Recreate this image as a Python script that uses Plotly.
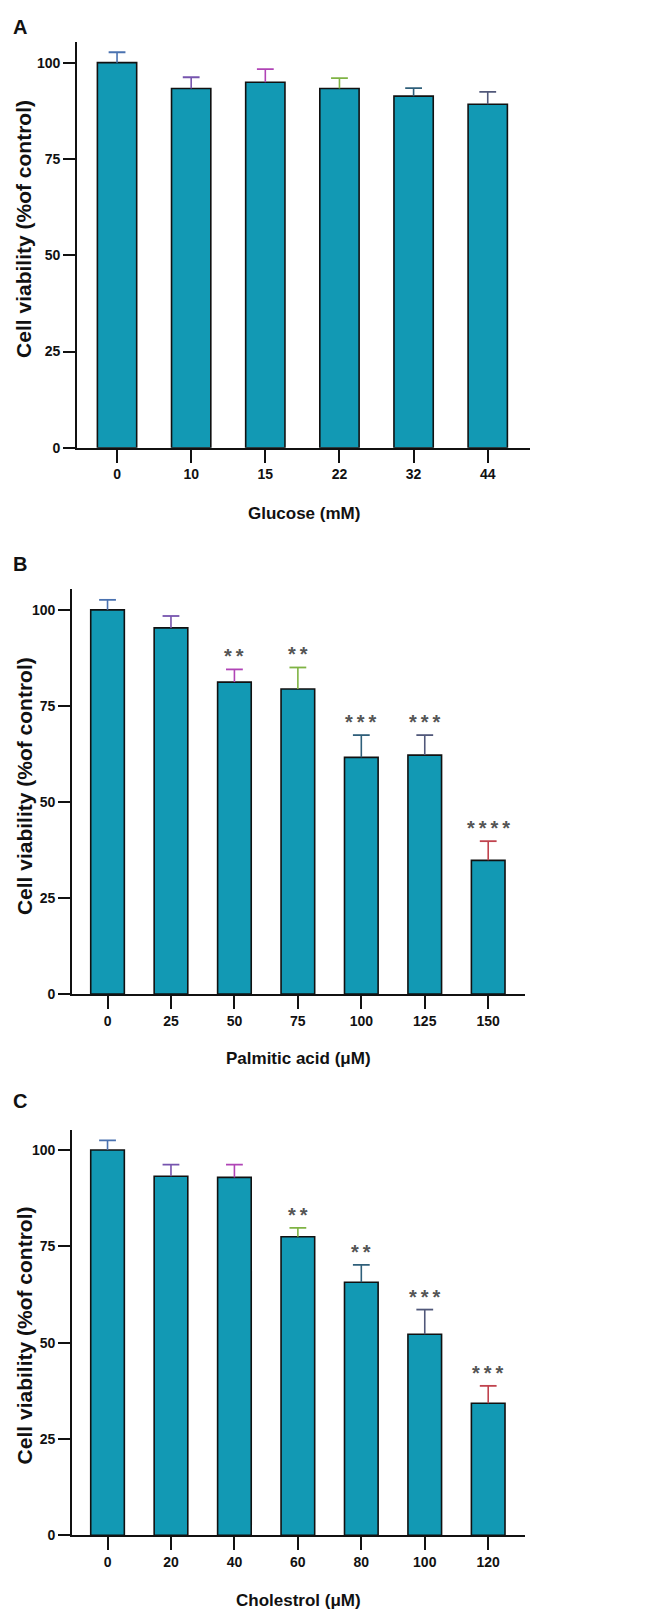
import plotly.graph_objects as go

W, H = 645, 1611

# ---------------- data ----------------
glucose_labels = ["0", "10", "15", "22", "32", "44"]
glucose_mean = [100.0, 93.3, 94.9, 93.3, 91.3, 89.2]
glucose_err = [2.7, 2.9, 3.4, 2.7, 2.1, 3.2]
glucose_sig = ["", "", "", "", "", ""]

palmitic_labels = ["0", "25", "50", "75", "100", "125", "150"]
palmitic_mean = [100.0, 95.3, 81.2, 79.4, 61.6, 62.2, 34.8]
palmitic_err = [2.6, 3.1, 3.3, 5.6, 5.8, 5.2, 5.0]
palmitic_sig = ["", "", "**", "**", "***", "***", "****"]

chol_labels = ["0", "20", "40", "60", "80", "100", "120"]
chol_mean = [100.0, 93.2, 92.9, 77.5, 65.7, 52.2, 34.3]
chol_err = [2.5, 3.0, 3.3, 2.3, 4.5, 6.4, 4.5]
chol_sig = ["", "", "", "**", "**", "***", "***"]

y_ticks = [0, 25, 50, 75, 100]

# ---------------- styles ----------------
BAR_COLOR = "#1299b4"
ERR_COLORS = ["#4a72b0", "#7654ae", "#b044b6", "#7fb344", "#2f5f7a", "#51587a", "#c0434e"]
FONT = "Liberation Sans, Arial, sans-serif"

panels = [
    dict(letter="A", labels=glucose_labels, mean=glucose_mean, err=glucose_err, sig=glucose_sig,
         title="Glucose (mM)", px=(69, 522), py=(34, 442), ymax=105.4, xr=(-0.54, 5.57),
         letter_y=6, ytitle_y=222, xtitle_y=508),
    dict(letter="B", labels=palmitic_labels, mean=palmitic_mean, err=palmitic_err, sig=palmitic_sig,
         title="Palmitic acid (μM)", px=(64, 517), py=(584, 991), ymax=105.4, xr=(-0.56, 6.58),
         letter_y=546, ytitle_y=782, xtitle_y=1056),
    dict(letter="C", labels=chol_labels, mean=chol_mean, err=chol_err, sig=chol_sig,
         title="Cholestrol (μM)", px=(64, 517), py=(1128, 1535), ymax=105.1, xr=(-0.56, 6.58),
         letter_y=1085, ytitle_y=1334, xtitle_y=1600),
]

fig = go.Figure()
annotations = []
layout_axes = {}

for i, p in enumerate(panels):
    n = i + 1
    xa = "x" if n == 1 else f"x{n}"
    ya = "y" if n == 1 else f"y{n}"
    xkey = "xaxis" if n == 1 else f"xaxis{n}"
    ykey = "yaxis" if n == 1 else f"yaxis{n}"

    fig.add_trace(go.Bar(
        x=p["labels"], y=p["mean"], xaxis=xa, yaxis=ya, width=0.53,
        marker=dict(color=BAR_COLOR, line=dict(color="#111111", width=1.6)),
        showlegend=False, hoverinfo="x+y",
    ))
    for k, (lab, m, e) in enumerate(zip(p["labels"], p["mean"], p["err"])):
        c = ERR_COLORS[k % len(ERR_COLORS)]
        top = m + e
        # stem from bar top up to mean+SD, cap drawn as a horizontal line marker
        fig.add_trace(go.Scatter(
            x=[lab], y=[top], xaxis=xa, yaxis=ya, mode="markers",
            marker=dict(symbol="line-ew", size=12, color=c, line=dict(color=c, width=1.8)),
            error_y=dict(type="data", symmetric=False, array=[0], arrayminus=[e],
                         color=c, thickness=1.6, width=0),
            showlegend=False, hoverinfo="skip",
        ))
        if p["sig"][k]:
            annotations.append(dict(
                x=k, y=top, xref=xa, yref=ya, text="<b>" + "\u2009".join(p["sig"][k]) + "</b>",
                showarrow=False, yanchor="middle", yshift=13,
                font=dict(family=FONT, size=20, color="#555555"),
            ))

    x0, x1 = p["px"]
    y0, y1 = p["py"]
    layout_axes[xkey] = dict(
        domain=[x0 / W, x1 / W], anchor=ya, type="category", range=list(p["xr"]),
        showline=True, linecolor="#111111", linewidth=1.6,
        ticks="outside", ticklen=13, tickwidth=1.6, tickcolor="#111111",
        tickfont=dict(family=FONT, size=14, color="#111111", weight="bold"),
        showgrid=False, zeroline=False, fixedrange=True,
    )
    layout_axes[ykey] = dict(
        domain=[1 - y1 / H, 1 - y0 / H], anchor=xa, range=[0, p["ymax"]],
        tickvals=y_ticks, ticktext=[str(v) for v in y_ticks],
        showline=True, linecolor="#111111", linewidth=1.6,
        ticks="outside", ticklen=12, tickwidth=1.6, tickcolor="#111111",
        tickfont=dict(family=FONT, size=14, color="#111111", weight="bold"),
        showgrid=False, zeroline=False, fixedrange=True,
    )

    annotations.append(dict(x=3 / W, y=1 - p["letter_y"] / H, xref="paper", yref="paper",
                            text="<b>" + p["letter"] + "</b>", showarrow=False,
                            xanchor="left", yanchor="top",
                            font=dict(family=FONT, size=20, color="#111111")))
    annotations.append(dict(x=16 / W, y=1 - p["ytitle_y"] / H, xref="paper", yref="paper",
                            text="<b>Cell viability (%of control)</b>", showarrow=False,
                            textangle=-90, xanchor="center", yanchor="middle",
                            font=dict(family=FONT, size=21, color="#111111")))
    annotations.append(dict(x=(x0 + x1) / 2 / W, y=1 - p["xtitle_y"] / H, xref="paper", yref="paper",
                            text="<b>" + p["title"] + "</b>", showarrow=False,
                            xanchor="center", yanchor="middle",
                            font=dict(family=FONT, size=17, color="#111111")))

fig.update_layout(
    width=W, height=H, margin=dict(l=0, r=0, t=0, b=0),
    paper_bgcolor="white", plot_bgcolor="white",
    barmode="overlay", annotations=annotations, showlegend=False,
    **layout_axes,
)

fig.write_html("out.html")
